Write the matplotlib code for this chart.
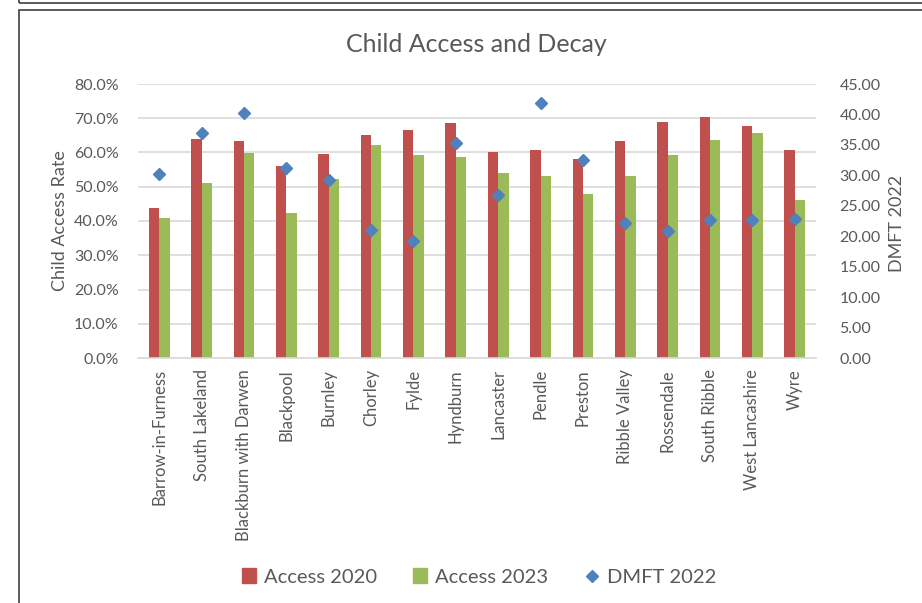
import matplotlib
matplotlib.use("Agg")
import matplotlib.pyplot as plt
from matplotlib.patches import Rectangle
from matplotlib.lines import Line2D
from matplotlib.ticker import FuncFormatter, MultipleLocator
import numpy as np

areas = ["Barrow-in-Furness", "South Lakeland", "Blackburn with Darwen", "Blackpool",
         "Burnley", "Chorley", "Fylde", "Hyndburn", "Lancaster", "Pendle", "Preston",
         "Ribble Valley", "Rossendale", "South Ribble", "West Lancashire", "Wyre"]
access_2020 = [43.8, 64.0, 63.5, 56.1, 59.5, 65.1, 66.6, 68.6, 60.2, 60.8, 58.0,
               63.5, 68.8, 70.5, 67.6, 60.8]
access_2023 = [41.0, 51.2, 59.8, 42.4, 52.4, 62.3, 59.2, 58.6, 54.0, 53.2, 47.8,
               53.2, 59.4, 63.6, 65.7, 46.1]
dmft_2022 = [30.2, 37.0, 40.3, 31.2, 29.3, 21.0, 19.2, 35.3, 26.7, 41.9, 32.6,
             22.1, 20.9, 22.7, 22.7, 22.9]

plt.rcParams['font.family'] = ['Lato', 'DejaVu Sans']
grey = '#595959'
red = '#C0504D'
green = '#9BBB59'
blue = '#4F81BD'

fig = plt.figure(figsize=(9.22, 6.03), dpi=100)
W, H = 922, 603
ax = fig.add_axes([138 / W, 1 - 358 / H, (816 - 138) / W, (358 - 84) / H])
ax2 = ax.twinx()

x = np.arange(len(areas))
bw = 0.245
ax.bar(x - bw / 2, access_2020, width=bw, color=red, zorder=2, label='Access 2020')
ax.bar(x + bw / 2, access_2023, width=bw, color=green, zorder=2, label='Access 2023')
ax2.plot(x, dmft_2022, linestyle='none', marker='D', markersize=6.5, color=blue,
         label='DMFT 2022', zorder=3)

ax.set_xlim(-0.5, len(areas) - 0.5)
ax.set_ylim(0, 80)
ax2.set_ylim(0, 45)
ax.yaxis.set_major_locator(MultipleLocator(10))
ax2.yaxis.set_major_locator(MultipleLocator(5))
ax.yaxis.set_major_formatter(FuncFormatter(lambda v, p: f"{v:.1f}%"))
ax2.yaxis.set_major_formatter(FuncFormatter(lambda v, p: f"{v:.2f}"))
ax.grid(axis='y', color='#D9D9D9', linewidth=1.2, zorder=0)
ax.set_axisbelow(True)

for a in (ax, ax2):
    for s in a.spines.values():
        s.set_visible(False)
ax.spines['bottom'].set_visible(True)
ax.spines['bottom'].set_color('#D9D9D9')
ax.spines['bottom'].set_linewidth(1.2)

ax.set_xticks(x)
ax.set_xticklabels(areas, rotation=90, fontsize=12, color=grey)
ax.tick_params(axis='x', length=0, pad=8)
ax.tick_params(axis='y', length=0, labelsize=11.5, labelcolor=grey, pad=14)
ax2.tick_params(axis='y', length=0, labelsize=11.5, labelcolor=grey, pad=17)

fig.text(60 / W, 1 - 221 / H, 'Child Access Rate', ha='center', va='center',
         rotation=90, fontsize=13, color=grey)
fig.text(897 / W, 1 - 223 / H, 'DMFT 2022', ha='center', va='center',
         rotation=90, fontsize=13, color=grey)

fig.text(476 / W, 1 - 44 / H, 'Child Access and Decay', ha='center', va='center',
         fontsize=18, color=grey)

handles = [Rectangle((0, 0), 1, 1, color=red), Rectangle((0, 0), 1, 1, color=green),
           Line2D([], [], linestyle='none', marker='D', markersize=6, color=blue)]
fig.legend(handles, ['Access 2020', 'Access 2023', 'DMFT 2022'], loc='center',
           bbox_to_anchor=(479 / W, 1 - 577 / H), ncol=3, frameon=False,
           fontsize=14.5, labelcolor=grey, handlelength=0.7, handleheight=0.7,
           handletextpad=0.4, columnspacing=1.8)

# chart frame
fig.add_artist(Rectangle((19 / W, -0.01), 1.0, 1 - 10 / H + 0.01, transform=fig.transFigure,
                         fill=False, edgecolor='#404040', linewidth=1.2))
fig.add_artist(Rectangle((19 / W, 1 - 3 / H), 1.0, 0.02, transform=fig.transFigure,
                         fill=False, edgecolor='#404040', linewidth=1.2))

fig.savefig('out.png', dpi=100)
